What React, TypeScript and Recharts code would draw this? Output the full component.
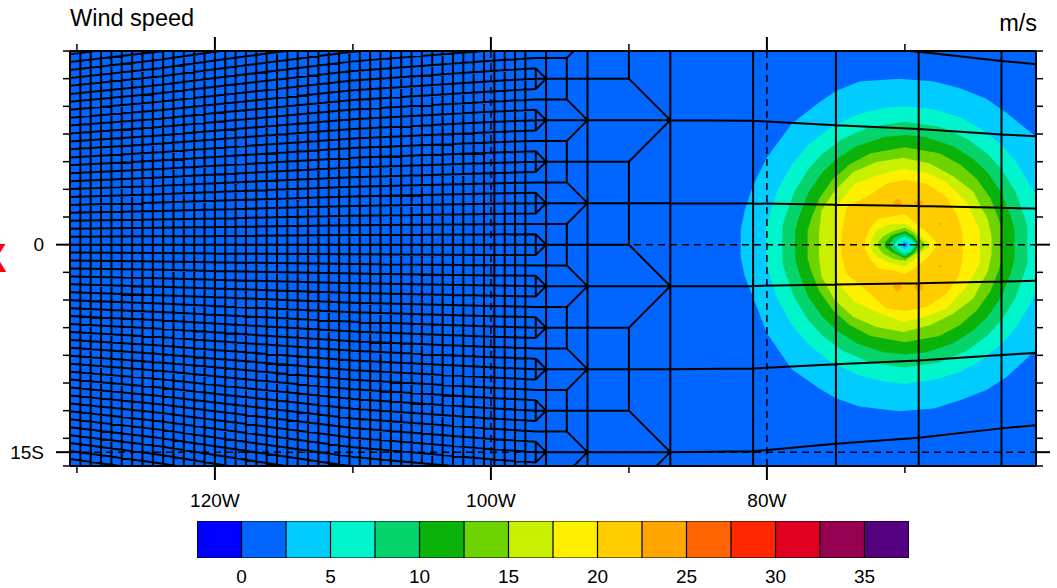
import { ComposedChart, Area, Line, XAxis, YAxis, ReferenceLine } from 'recharts';

const FONT = '"Liberation Sans", Arial, sans-serif';

// colour bar, one box per 2.5 m/s step
const bandColors = ['#0000FF', '#0066FF', '#00CCFF', '#00F5CC', '#05D46D', '#0AB20A', '#6DD400', '#C8F000', '#FFF000', '#FFCC00', '#FFA500', '#FF6400', '#FF2800', '#E00020', '#960050', '#55007F'];
const bandEdges = [-2.5, 0, 2.5, 5, 7.5, 10, 12.5, 15, 17.5, 20, 22.5, 25, 27.5, 30, 32.5, 35, 37.5];
const barTicks = [0, 5, 10, 15, 20, 25, 30, 35];

// map axes
const lonDomain = [-130.5, -60.5];
const latDomain = [-16, 14];
const lonTicks = [-130, -120, -110, -100, -90, -80, -70];
const lonLabels: Record<number, string> = { '-120': '120W', '-100': '100W', '-80': '80W' };
const latTicks = [-16, -15, -14, -12, -10, -8, -6, -4, -2, 0, 2, 4, 6, 8, 10, 12, 14];
const latLabels: Record<number, string> = { '0': '0', '-15': '15S' };

// wind speed contours, outermost first
const bgLon = [-130.5, -60.5];
const bgLow = [-16, -16];
const bgHigh = [14, 14];

const c25Lon = [-81.9, -81.6, -81, -80, -78.2, -76.2, -75, -73.3, -70.4, -67.9, -66, -64.1, -62.6, -60.5];
const c25High = [1.04, 2.5, 4.3, 6.3, 8.75, 10.3, 11.1, 11.8, 12, 11.8, 11.3, 10.55, 9.5, 7.8];
const c25Low = [-0.9, -2.3, -3.8, -6.4, -9, -10.4, -11.1, -11.7, -12.05, -11.85, -11.25, -10.5, -9.55, -7.6];

const c50Lon = [-80.05, -79.8, -79.2, -78.2, -77, -75.5, -73.5, -71.5, -70, -68, -66, -64.5, -63, -62, -61, -60.5];
const c50High = [1.2, 2.2, 4, 5.8, 7.2, 8.4, 9.4, 9.9, 10, 9.8, 9.2, 8.4, 7.2, 6.05, 4.45, 3.6];
const c50Low = [-1.2, -2.2, -4, -5.8, -7.2, -8.4, -9.4, -9.9, -10.05, -9.8, -9.2, -8.4, -7.2, -6.05, -4.45, -3.3];

const c75Lon = [-78.88, -78.6, -78, -77, -76, -74.5, -72.5, -70, -67.5, -65.5, -64, -63, -62, -61.4, -61.12];
const c75High = [1.3, 2.2, 3.85, 5.46, 6.55, 7.66, 8.52, 8.88, 8.52, 7.66, 6.55, 5.46, 3.85, 2.2, 1.3];
const c75Low = [-1.3, -2.2, -3.85, -5.46, -6.55, -7.66, -8.52, -8.88, -8.52, -7.66, -6.55, -5.46, -3.85, -2.2, -1.3];

const c100Lon = [-77.95, -77.7, -77, -76, -75, -73.5, -71.5, -70, -68.5, -66.5, -65, -64, -63, -62.3, -62.05];
const c100High = [1, 1.97, 3.76, 5.2, 6.16, 7.12, 7.79, 7.93, 7.79, 7.12, 6.16, 5.2, 3.76, 1.97, 1];
const c100Low = [-1, -1.97, -3.76, -5.2, -6.16, -7.12, -7.79, -7.93, -7.79, -7.12, -6.16, -5.2, -3.76, -1.97, -1];

const c125Lon = [-77.05, -76.8, -76.2, -75.2, -74, -72.5, -70, -67.5, -66, -64.8, -63.8, -63.2, -62.95];
const c125High = [1, 1.86, 3.36, 4.76, 5.8, 6.6, 7.05, 6.6, 5.8, 4.76, 3.36, 1.86, 1];
const c125Low = [-1, -1.86, -3.36, -4.76, -5.8, -6.6, -7.05, -6.6, -5.8, -4.76, -3.36, -1.86, -1];

const c150Lon = [-76.23, -76.04, -75.07, -73.74, -72.05, -70.12, -68.19, -66.5, -65.05, -63.96, -63.72];
const c150High = [0.8, 2.48, 3.93, 5.25, 5.98, 6.29, 5.86, 4.95, 3.85, 1.76, 0.55];
const c150Low = [-0.89, -2.34, -4.02, -5.23, -5.95, -6.31, -5.83, -5, -3.9, -1.86, -0.65];

const c175Lon = [-75.07, -74.83, -73.62, -72.05, -70.12, -68.43, -66.98, -65.53, -64.57];
const c175High = [1.76, 2.96, 4.41, 5, 5.49, 5.2, 4.5, 3.1, 1.04];
const c175Low = [-1.61, -2.82, -4.14, -4.87, -5.59, -5.2, -4.6, -3, -1.37];

const c200Lon = [-74.59, -74.23, -72.78, -71.33, -70, -68.43, -66.98, -66.14, -65.82];
const c200High = [0.8, 2.72, 3.45, 4.41, 4.7, 4.41, 3.45, 2, 0.8];
const c200Low = [-0.89, -2.1, -3.3, -4.63, -4.8, -4.51, -3.54, -2.34, -1.13];

// calm eye, the speed falls again towards the centre
const h200Lon = [-72.9, -72.54, -71.93, -70.85, -70, -69.15, -68.31, -67.75];
const h200High = [0.3, 1.16, 1.88, 2.05, 2.19, 1.52, 0.8, 0.19];
const h200Low = [-0.3, -1.01, -1.73, -1.86, -2.14, -1.61, -0.89, -0.17];

const h175Lon = [-72.49, -72.05, -71.09, -70, -69.28, -68.55, -68.24];
const h175High = [0.3, 1.04, 1.45, 1.52, 1.08, 0.31, 0.07];
const h175Low = [-0.3, -0.89, -1.33, -1.57, -1.01, -0.41, -0.07];

const h150Lon = [-71.93, -71.57, -70.85, -70, -69.4, -68.79, -68.55];
const h150High = [0.2, 0.6, 0.99, 1.23, 0.92, 0.31, 0.07];
const h150Low = [-0.2, -0.65, -1.01, -1.18, -0.77, -0.36, -0.07];

const h125Lon = [-71.45, -70.97, -70, -69.4, -69.03];
const h125High = [0.15, 0.67, 0.99, 0.67, 0.15];
const h125Low = [-0.15, -0.53, -1.01, -0.65, -0.15];

const h100Lon = [-71.09, -70.72, -70, -69.52, -69.15];
const h100High = [0.12, 0.55, 0.8, 0.5, 0.1];
const h100Low = [-0.12, -0.5, -0.85, -0.55, -0.1];

const h75Lon = [-70.72, -70.35, -70, -69.6, -69.28];
const h75High = [0.08, 0.5, 0.58, 0.42, 0.08];
const h75Low = [-0.08, -0.5, -0.65, -0.45, -0.08];

const h50Lon = [-70.36, -70, -69.6];
const h50High = [0.05, 0.32, 0.05];
const h50Low = [-0.05, -0.35, -0.05];

const h25Lon = [-70.18, -70, -69.82];
const h25High = [0.02, 0.17, 0.02];
const h25Low = [-0.02, -0.17, -0.02];

// little orange spots above 22.5 m/s: lon, lat, half size
const spotLon = [-70.53, -68.99, -70.53, -68.99, -67.46, -67.46];
const spotLat = [3.01, 3.01, -3.06, -3.06, 1.52, -1.57];
const spotSize = [0.36, 0.36, 0.36, 0.36, 0.12, 0.12];

// grid mesh: rows of the fine part, lat at each of fineLons, north side (south is the mirror)
const fineLons = [-130.5, -124, -120, -110, -100, -96.75];
const fineRows = [
  [0.57, 0.61, 0.63, 0.7, 0.74, 0.75],
  [1.15, 1.22, 1.27, 1.4, 1.48, 1.5],
  [1.72, 1.82, 1.9, 2.09, 2.22, 2.25],
  [2.3, 2.43, 2.54, 2.79, 2.96, 3],
  [2.87, 3.04, 3.17, 3.49, 3.69, 3.75],
  [3.44, 3.65, 3.8, 4.19, 4.43, 4.5],
  [4.02, 4.25, 4.44, 4.88, 5.17, 5.25],
  [4.59, 4.86, 5.07, 5.58, 5.91, 6],
  [5.16, 5.47, 5.7, 6.28, 6.65, 6.75],
  [5.74, 6.08, 6.34, 6.98, 7.39, 7.5],
  [6.31, 6.68, 6.97, 7.67, 8.13, 8.25],
  [6.89, 7.29, 7.61, 8.37, 8.87, 9],
  [7.46, 7.9, 8.24, 9.07, 9.6, 9.75],
  [8.03, 8.51, 8.87, 9.77, 10.34, 10.5],
  [8.61, 9.11, 9.51, 10.46, 11.08, 11.25],
  [9.18, 9.72, 10.14, 11.16, 11.82, 12],
  [9.75, 10.33, 10.77, 11.86, 12.56, 12.75],
  [10.33, 10.94, 11.41, 12.56, 13.3, 13.5],
  [10.9, 11.54, 12.04, 13.25, 14.04, 14.25],
  [11.48, 12.15, 12.68, 13.95, 14.78, 15],
  [12.05, 12.76, 13.31, 14.65, 15.51, 15.75],
  [12.62, 13.37, 13.94, 15.35, 16.25, 16.5],
  [13.2, 13.97, 14.58, 16.04, 16.99, 17.25],
  [13.77, 14.58, 15.21, 16.74, 17.73, 18],
  [14.34, 15.19, 15.84, 17.44, 18.47, 18.75],
  [14.92, 15.8, 16.48, 18.14, 19.21, 19.5],
  [15.49, 16.4, 17.11, 18.83, 19.95, 20.25],
  [16.07, 17.01, 17.75, 19.53, 20.69, 21],
];

// where the mesh coarsens: rows merging at -96, -93 and -87
const mergeAFrom = [0.75, 2.25, 3.75, 5.25, 6.75, 8.25, 9.75, 11.25, 12.75, 14.25, -0.75, -2.25, -3.75, -5.25, -6.75, -8.25, -9.75, -11.25, -12.75, -14.25, -15.75];
const mergeATo = [0, 3, 3, 6, 6, 9, 9, 12, 12, 15, 0, -3, -3, -6, -6, -9, -9, -12, -12, -15, -15];
const mergeBFrom = [1.5, 4.5, 7.5, 10.5, 13.5, 16.5, -1.5, -4.5, -7.5, -10.5, -13.5, -16.5];
const mergeBTo = [3, 3, 9, 9, 15, 15, -3, -3, -9, -9, -15, -15];
const mergeCFrom = [0, 6, 12, 18, -6, -12, -18];
const mergeCTo = [-3, 9, 9, 15, -3, -15, -15];

// rows running through to the right edge
const coarseLons = [-96.75, -90, -87, -81, -75, -69, -63, -60.5];
const coarseRows = [
  [15, 15, 15, 14.93, 14.4, 13.95, 13.28, 13.05],
  [9, 9, 9, 8.95, 8.64, 8.37, 7.97, 7.83],
  [3, 3, 3, 2.98, 2.88, 2.79, 2.66, 2.61],
];

const fullMeridians = [
  -129.75, -129, -128.25, -127.5, -126.75, -126, -125.25, -124.5, -123.75, -123, -122.25,
  -121.5, -120.75, -120, -119.25, -118.5, -117.75, -117, -116.25, -115.5, -114.75, -114,
  -113.25, -112.5, -111.75, -111, -110.25, -109.5, -108.75, -108, -107.25, -106.5, -105.75,
  -105, -104.25, -103.5, -102.75, -102, -101.25, -100.5, -99.75, -99, -98.25, -97.5,
  -96, -93, -87, -81, -75, -69, -63,
];
// meridians that stop and start again: [north, south] pieces
const brokenA = [[15.75, 14.25], [12.75, 11.25], [9.75, 8.25], [6.75, 5.25], [3.75, 2.25], [0.75, -0.75], [-2.25, -3.75], [-5.25, -6.75], [-8.25, -9.75], [-11.25, -12.75], [-14.25, -15.75]];
const brokenB = [[13.5, 10.5], [7.5, 4.5], [1.5, -1.5], [-4.5, -7.5], [-10.5, -13.5]];
const brokenC = [[18, 12], [6, 0], [-6, -12]];

const dashedLons = [-120, -100, -80];
const dashedLats = [0, -15];

type P = { lon: number; lat: number | null };
const pathsToRows = (paths: [number, number][][]): P[] =>
  paths.flatMap((p) => [...p.map(([lon, lat]) => ({ lon, lat })), { lon: p[p.length - 1][0], lat: null }]);

const meshPaths: [number, number][][] = [
  fineLons.map((lon) => [lon, 0] as [number, number]),
  ...fineRows.flatMap((row) => [
    fineLons.map((lon, i) => [lon, row[i]] as [number, number]),
    fineLons.map((lon, i) => [lon, -row[i]] as [number, number]),
  ]),
  ...mergeAFrom.map((b, i) => [[-96.75, b], [-96, mergeATo[i]]] as [number, number][]),
  ...mergeBFrom.map((b, i) => [[-96.75, b], [-94.5, b], [-93, mergeBTo[i]]] as [number, number][]),
  ...mergeCFrom.map((b, i) => [[-96.75, b], [-90, b], [-87, mergeCTo[i]]] as [number, number][]),
  ...coarseRows.flatMap((row) => [
    coarseLons.map((lon, i) => [lon, row[i]] as [number, number]),
    coarseLons.map((lon, i) => [lon, -row[i]] as [number, number]),
  ]),
  ...fullMeridians.map((lon) => [[lon, latDomain[0]], [lon, latDomain[1]]] as [number, number][]),
  ...brokenA.map(([n, s]) => [[-96.75, n], [-96.75, s]] as [number, number][]),
  ...brokenB.map(([n, s]) => [[-94.5, n], [-94.5, s]] as [number, number][]),
  ...brokenC.map(([n, s]) => [[-90, n], [-90, s]] as [number, number][]),
];
const meshRows = pathsToRows(meshPaths);

const toBand = (lon: number[], low: number[], high: number[]) =>
  lon.map((x, i) => ({ lon: x, band: [low[i], high[i]] }));

const contours = [
  { id: 'bg', fill: 1, rows: toBand(bgLon, bgLow, bgHigh) },
  { id: 'c25', fill: 2, rows: toBand(c25Lon, c25Low, c25High) },
  { id: 'c50', fill: 3, rows: toBand(c50Lon, c50Low, c50High) },
  { id: 'c75', fill: 4, rows: toBand(c75Lon, c75Low, c75High) },
  { id: 'c100', fill: 5, rows: toBand(c100Lon, c100Low, c100High) },
  { id: 'c125', fill: 6, rows: toBand(c125Lon, c125Low, c125High) },
  { id: 'c150', fill: 7, rows: toBand(c150Lon, c150Low, c150High) },
  { id: 'c175', fill: 8, rows: toBand(c175Lon, c175Low, c175High) },
  { id: 'c200', fill: 9, rows: toBand(c200Lon, c200Low, c200High) },
  ...spotLon.map((lon, i) => ({
    id: `spot${i}`,
    fill: 10,
    rows: toBand(
      [lon - spotSize[i], lon, lon + spotSize[i]],
      [spotLat[i], spotLat[i] - spotSize[i], spotLat[i]],
      [spotLat[i], spotLat[i] + spotSize[i], spotLat[i]],
    ),
  })),
  { id: 'h200', fill: 8, rows: toBand(h200Lon, h200Low, h200High) },
  { id: 'h175', fill: 7, rows: toBand(h175Lon, h175Low, h175High) },
  { id: 'h150', fill: 6, rows: toBand(h150Lon, h150Low, h150High) },
  { id: 'h125', fill: 5, rows: toBand(h125Lon, h125Low, h125High) },
  { id: 'h100', fill: 4, rows: toBand(h100Lon, h100Low, h100High) },
  { id: 'h75', fill: 3, rows: toBand(h75Lon, h75Low, h75High) },
  { id: 'h50', fill: 2, rows: toBand(h50Lon, h50Low, h50High) },
  { id: 'h25', fill: 1, rows: toBand(h25Lon, h25Low, h25High) },
];

// colour bar boxes and their separators
const barBoxes = bandColors.map((color, i) => ({
  color,
  rows: [
    { level: bandEdges[i], box: [0, 1] },
    { level: bandEdges[i + 1], box: [0, 1] },
  ],
}));
const barLines = bandEdges.flatMap((level) => [
  { level, edge: 0 },
  { level, edge: 1 },
  { level, edge: null },
]);

const LonTick = ({ x, y, payload, side }: any) => {
  const label = lonLabels[payload.value];
  const len = label ? 14 : 7;
  return (
    <g>
      <line x1={x} x2={x} y1={y} y2={side === 'top' ? y - len : y + len} stroke="#000" strokeWidth={label ? 2 : 1.5} />
      {label && side === 'bottom' && (
        <text x={x} y={y + 41} textAnchor="middle" fontSize={19} fontFamily={FONT} fill="#000">
          {label}
        </text>
      )}
    </g>
  );
};

const LatTick = ({ x, y, payload, side }: any) => {
  const label = latLabels[payload.value];
  const len = label ? 14 : 7;
  return (
    <g>
      <line y1={y} y2={y} x1={x} x2={side === 'left' ? x - len : x + len} stroke="#000" strokeWidth={label ? 2 : 1.5} />
      {label && side === 'left' && (
        <text x={x - 26} y={y + 6.5} textAnchor="end" fontSize={19} fontFamily={FONT} fill="#000">
          {label}
        </text>
      )}
    </g>
  );
};

const axisLine = { stroke: '#000', strokeWidth: 2 };

const App = () => (
  <div style={{ position: 'absolute', left: 0, top: 0, width: 1057, height: 588, overflow: 'hidden', background: '#fff', fontFamily: FONT }}>
    <div style={{ position: 'absolute', left: 70, top: 4, fontSize: 23.5, lineHeight: '28px', color: '#000' }}>Wind speed</div>
    <div style={{ position: 'absolute', right: 20, top: 9, fontSize: 23.5, lineHeight: '28px', color: '#000' }}>m/s</div>
    <div style={{ position: 'absolute', left: -20, top: 235, fontSize: 40, lineHeight: '46px', fontWeight: 700, color: '#FF0000' }}>X</div>

    <div style={{ position: 'absolute', left: 0, top: 0 }}>
      <ComposedChart width={1057} height={588} margin={{ top: 50, right: 20, bottom: 121, left: 69 }}>
        <XAxis xAxisId="bottom" orientation="bottom" type="number" dataKey="lon" domain={lonDomain} allowDataOverflow ticks={lonTicks} interval={0} height={1} tickSize={0} tickMargin={0} tickLine={false} axisLine={axisLine} tick={(p: any) => <LonTick {...p} side="bottom" />} />
        <XAxis xAxisId="top" orientation="top" type="number" dataKey="lon" domain={lonDomain} allowDataOverflow ticks={lonTicks} interval={0} height={1} tickSize={0} tickMargin={0} tickLine={false} axisLine={axisLine} tick={(p: any) => <LonTick {...p} side="top" />} />
        <YAxis yAxisId="left" orientation="left" type="number" domain={latDomain} allowDataOverflow ticks={latTicks} interval={0} width={1} tickSize={0} tickMargin={0} tickLine={false} axisLine={axisLine} tick={(p: any) => <LatTick {...p} side="left" />} />
        <YAxis yAxisId="right" orientation="right" type="number" domain={latDomain} allowDataOverflow ticks={latTicks} interval={0} width={1} tickSize={0} tickMargin={0} tickLine={false} axisLine={axisLine} tick={(p: any) => <LatTick {...p} side="right" />} />
        {contours.map((c) => (
          <Area
            key={c.id}
            xAxisId="bottom"
            yAxisId="left"
            data={c.rows}
            dataKey="band"
            type="linear"
            stroke="none"
            fill={bandColors[c.fill]}
            fillOpacity={1}
            dot={false}
            activeDot={false}
            legendType="none"
            isAnimationActive={false}
          />
        ))}
        <Line
          xAxisId="bottom"
          yAxisId="left"
          data={meshRows}
          dataKey="lat"
          type="linear"
          stroke="#000"
          strokeWidth={2}
          dot={false}
          activeDot={false}
          connectNulls={false}
          legendType="none"
          isAnimationActive={false}
        />
        {dashedLons.map((lon) => (
          <ReferenceLine key={lon} xAxisId="bottom" yAxisId="left" x={lon} stroke="#000" strokeWidth={1.5} strokeDasharray="7 5" />
        ))}
        {dashedLats.map((lat) => (
          <ReferenceLine key={lat} xAxisId="bottom" yAxisId="left" y={lat} stroke="#000" strokeWidth={1.5} strokeDasharray="7 5" />
        ))}
      </ComposedChart>
    </div>

    <div style={{ position: 'absolute', left: 0, top: 0 }}>
      <ComposedChart width={1057} height={588} margin={{ top: 521, right: 148, bottom: 29, left: 197 }}>
        <XAxis type="number" dataKey="level" domain={[bandEdges[0], bandEdges[16]]} allowDataOverflow ticks={barTicks} interval={0} height={1} tickSize={0} tickMargin={12} tickLine={false} axisLine={false} tick={{ fill: '#000', fontSize: 19, fontFamily: FONT }} />
        <YAxis hide type="number" domain={[0, 1]} allowDataOverflow />
        {barBoxes.map((b) => (
          <Area key={b.color} data={b.rows} dataKey="box" type="linear" stroke="#000" strokeWidth={1} fill={b.color} fillOpacity={1} dot={false} activeDot={false} legendType="none" isAnimationActive={false} />
        ))}
        <Line data={barLines} dataKey="edge" type="linear" stroke="#000" strokeWidth={1.2} dot={false} activeDot={false} connectNulls={false} legendType="none" isAnimationActive={false} />
      </ComposedChart>
    </div>
  </div>
);

export default App;
